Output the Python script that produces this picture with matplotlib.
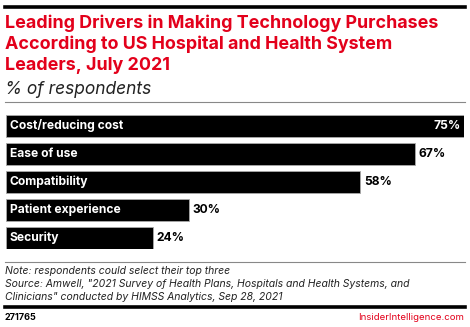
import matplotlib.pyplot as plt

categories = ["Cost/reducing cost", "Ease of use", "Compatibility",
              "Patient experience", "Security"]
values = [75, 67, 58, 30, 24]

W, H = 470, 327
RED = "#e3001b"
plt.rcParams['font.family'] = ['Inter', 'DejaVu Sans']

fig = plt.figure(figsize=(W / 100, H / 100), dpi=100)

def fx(px):
    return px / W

def fy(py):
    return 1 - py / H

# rules
fig.add_artist(plt.Line2D([fx(5), fx(465)], [fy(6.5), fy(6.5)], color="black", lw=2.6))
fig.add_artist(plt.Line2D([fx(5), fx(465)], [fy(102), fy(102)], color="#888888", lw=0.8))
fig.add_artist(plt.Line2D([fx(5), fx(465)], [fy(262), fy(262)], color="#888888", lw=0.8))
fig.add_artist(plt.Line2D([fx(5), fx(465)], [fy(307), fy(307)], color="black", lw=2.6))

# title
title = ["Leading Drivers in Making Technology Purchases",
         "According to US Hospital and Health System",
         "Leaders, July 2021"]
for i, line in enumerate(title):
    fig.text(fx(5), fy(23 + 21.5 * i), line, color=RED, fontsize=12.9,
             fontweight="bold", va="center", ha="left")
fig.text(fx(5), fy(89), "% of respondents", fontsize=12.5, style="italic",
         va="center", ha="left", color="#222222")

# bars
ax = fig.add_axes([fx(6), fy(249), fx(458), 134 / H])
pos = list(range(len(categories)))
ax.barh(pos, values, height=22 / 28, color="black", edgecolor="#aaaaaa", linewidth=0.6)
ax.set_xlim(0, 75)
ax.set_ylim(len(categories) - 0.5 - 3 / 28, -0.5 + 3 / 28)
ax.axis("off")
for p, c, v in zip(pos, categories, values):
    ax.text(0.6, p, c, color="white", fontsize=8.7, fontweight="bold", va="center", ha="left")
    if v >= 70:
        ax.text(v - 0.5, p, f"{v}%", color="white", fontsize=8.7, fontweight="bold",
                va="center", ha="right")
    else:
        ax.text(v + 0.6, p, f"{v}%", color="black", fontsize=8.7, fontweight="bold",
                va="center", ha="left")

# notes
notes = ["Note: respondents could select their top three",
         "Source: Amwell, \"2021 Survey of Health Plans, Hospitals and Health Systems, and",
         "Clinicians\" conducted by HIMSS Analytics, Sep 28, 2021"]
for i, line in enumerate(notes):
    fig.text(fx(5), fy(271 + 13 * i), line, fontsize=7.5, style="italic",
             va="center", ha="left", color="#222222")
fig.text(fx(5), fy(318), "271765", fontsize=6.5, fontweight="bold", va="center", ha="left")
fig.text(fx(464), fy(318), "InsiderIntelligence.com", fontsize=6.9, color=RED,
         va="center", ha="right")

fig.savefig("out.png", dpi=100)
